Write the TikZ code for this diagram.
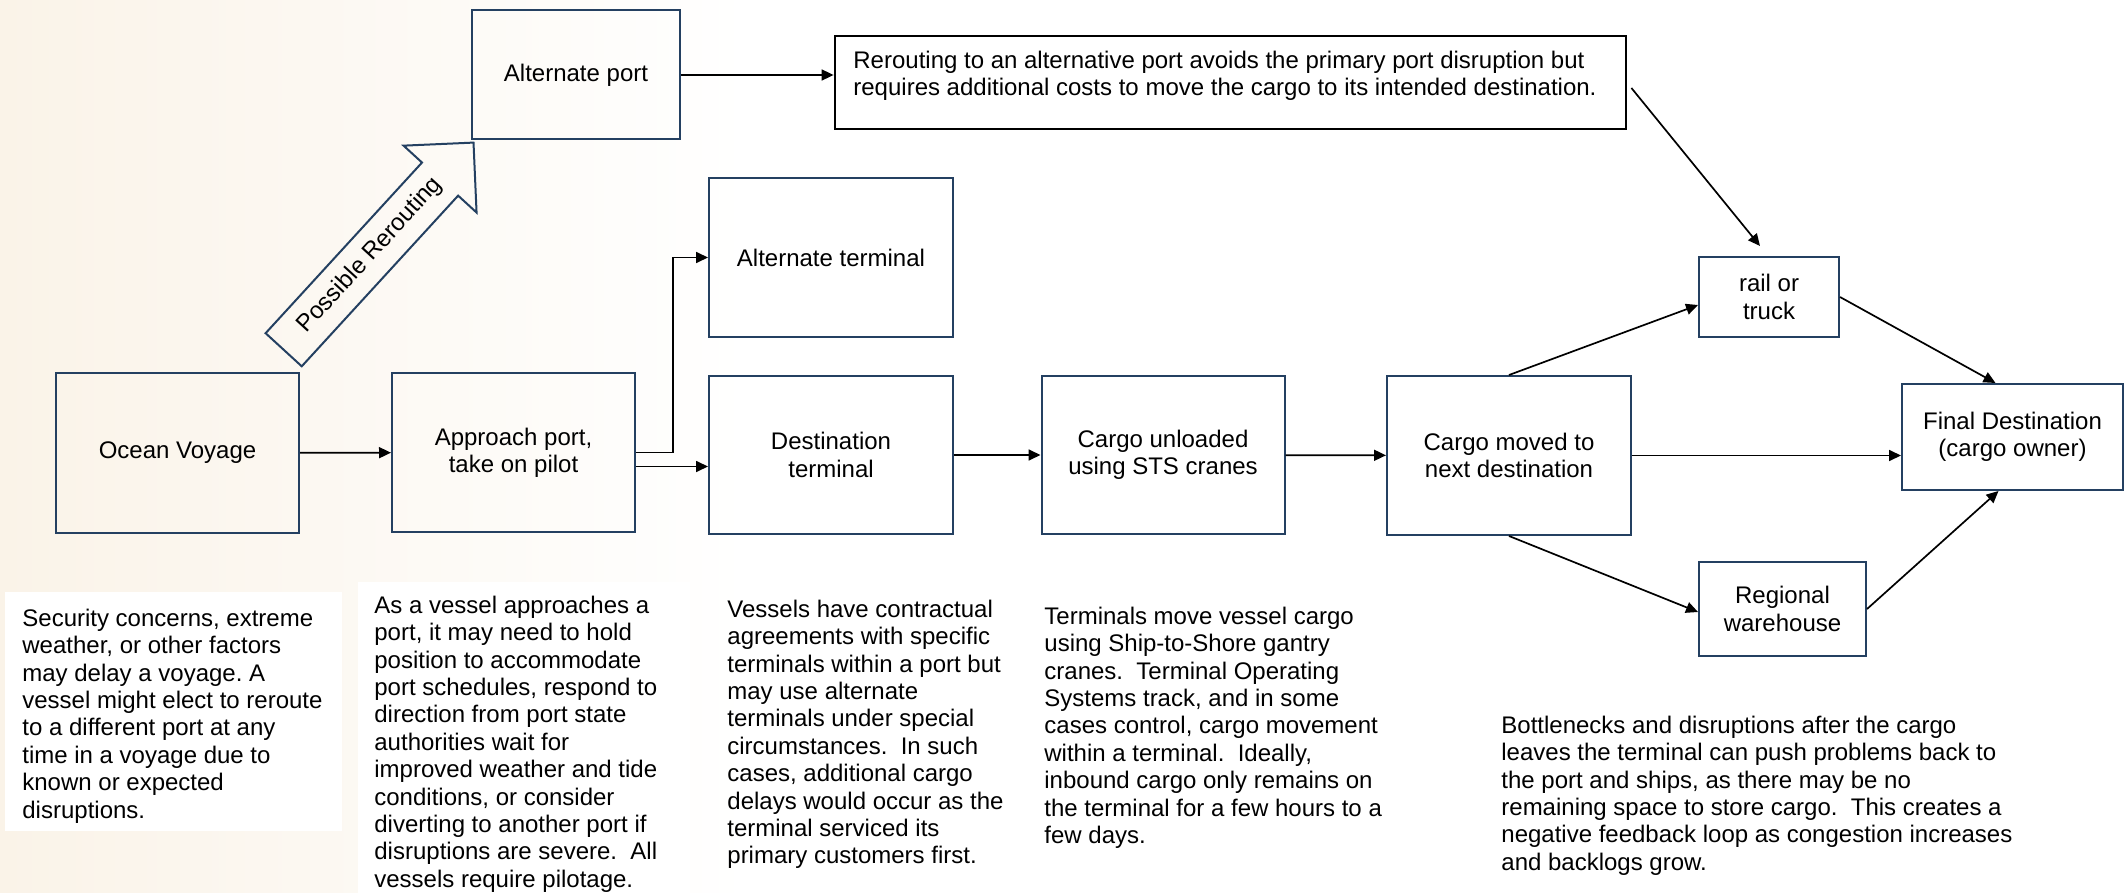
\documentclass[tikz,border=0pt]{standalone}
\usepackage{fontspec}
\setmainfont{Liberation Sans}
\usetikzlibrary{shapes,arrows.meta,positioning,calc}

\definecolor{boxblue}{RGB}{36,64,97}
\definecolor{peach}{RGB}{250,243,232}

\begin{document}
\frenchspacing
\begin{tikzpicture}[x=0.5pt,y=-0.5pt,
    font=\fontsize{12}{13.7}\selectfont,
    %
    stage/.style={rectangle, draw=boxblue, line width=1pt, align=center, inner sep=0pt},
    note/.style={anchor=north west, align=left, inner sep=0pt},
    reroute arrow/.style={single arrow, draw=boxblue, line width=1pt,
    minimum height=140.5pt, text height=8.7pt, text depth=2.5pt,
    inner ysep=6.15pt, inner xsep=4pt,
    single arrow head extend=12.5pt, single arrow tip angle=90},
    flow/.style={-{Triangle[length=6pt,width=5.5pt]}, line width=0.85pt}]
    % background
    \fill[white] (0,0) rectangle (2125,893);
    \shade[left color=peach, right color=white] (0,0) rectangle (750,893);
    \fill[white] (5,592) rectangle (342,831);
    \fill[white] (358,582) rectangle (690,893);
    \useasboundingbox (0,0) rectangle (2125,893);
    % stages
    \node[stage, minimum width=121.5pt, minimum height=80pt] (ocean) at (177.5,453) {Ocean Voyage};
    \node[stage, minimum width=121.5pt, minimum height=79.5pt] (approach) at (513.5,452.5) {Approach port,\\take on pilot};
    \node[stage, minimum width=104pt, minimum height=64.5pt] (altport) at (576,75) {Alternate port};
    \node[stage, draw=black, line width=1.4pt, minimum width=395.5pt, minimum height=46.5pt] (reroute) at (1230.5,82.5) {};
    \node[note] (reroutetext) at (853,50.5) {Rerouting to an alternative port avoids the primary port disruption but\\requires additional costs to move the cargo to its intended destination.};
    \node[stage, minimum width=122pt, minimum height=79.5pt] (altterm) at (831,257.5) {Alternate terminal};
    \node[stage, minimum width=122pt, minimum height=79pt] (destterm) at (831,455) {Destination\\terminal};
    \node[stage, minimum width=121.5pt, minimum height=79pt] (unloaded) at (1163,455) {Cargo unloaded\\using STS cranes};
    \node[stage, minimum width=122pt, minimum height=79.5pt] (moved) at (1509,455.5) {Cargo moved to\\next destination};
    \node[stage, minimum width=70pt, minimum height=40pt] (rail) at (1769,297) {rail or\\truck};
    \node[stage, minimum width=110.5pt, minimum height=53pt] (final) at (2012.5,437) {Final Destination\\(cargo owner)};
    \node[stage, minimum width=83.5pt, minimum height=47pt] (regional) at (1782.5,609) {Regional\\warehouse};
    \node[reroute arrow, anchor=tail, rotate=47.5] (possible) at (283,350.5) {Possible Rerouting};
    % notes
    \node[note] (oceannote) at (22,608.5) {Security concerns, extreme\\weather, or other factors\\may delay a voyage. A\\vessel might elect to reroute\\to a different port at any\\time in a voyage due to\\known or expected\\disruptions.};
    \node[note] (approachnote) at (374,595.5) {As a vessel approaches a\\port, it may need to hold\\position to accommodate\\port schedules, respond to\\direction from port state\\authorities wait for\\improved weather and tide\\conditions, or consider\\diverting to another port if\\disruptions are severe.\ \ All\\vessels require pilotage.};
    \node[note] (destnote) at (727,599.5) {Vessels have contractual\\agreements with specific\\terminals within a port but\\may use alternate\\terminals under special\\circumstances.\ \ In such\\cases, additional cargo\\delays would occur as the\\terminal serviced its\\primary customers first.};
    \node[note] (unloadnote) at (1044,606.5) {Terminals move vessel cargo\\using Ship-to-Shore gantry\\cranes.\ \ Terminal Operating\\Systems track, and in some\\cases control, cargo movement\\within a terminal.\ \ Ideally,\\inbound cargo only remains on\\the terminal for a few hours to a\\few days.};
    \node[note] (movednote) at (1501,715.5) {Bottlenecks and disruptions after the cargo\\leaves the terminal can push problems back to\\the port and ships, as there may be no\\remaining space to store cargo.\ \ This creates a\\negative feedback loop as congestion increases\\and backlogs grow.};
    % connectors
    \draw[flow] (ocean) -- (approach);
    \draw[flow] (approach.east) -- ++(37,0) |- (altterm.west);
    \draw[flow] ([yshift=-7pt]approach.east) -- ([yshift=-7pt]approach.east -| destterm.west);
    \draw[flow] (destterm) -- (unloaded);
    \draw[flow] (unloaded) -- (moved);
    \draw[flow] (altport.east) -- (altport.east -| reroute.west);
    \draw[flow] ([shift={(4,5.5)}]reroute.east) -- ([shift={(-9,-10)}]rail.north);
    \draw[flow] (moved.north) -- ([yshift=-4pt]rail.west);
    \draw[flow] (rail.east) -- ([xshift=-8.5pt]final.north);
    \draw[flow] (moved.east) -- (moved.east -| final.west);
    \draw[flow] (moved.south) -- ([yshift=-1.5pt]regional.west);
    \draw[flow] (regional.east) -- ([xshift=-7pt]final.south);
\end{tikzpicture}
\end{document}
